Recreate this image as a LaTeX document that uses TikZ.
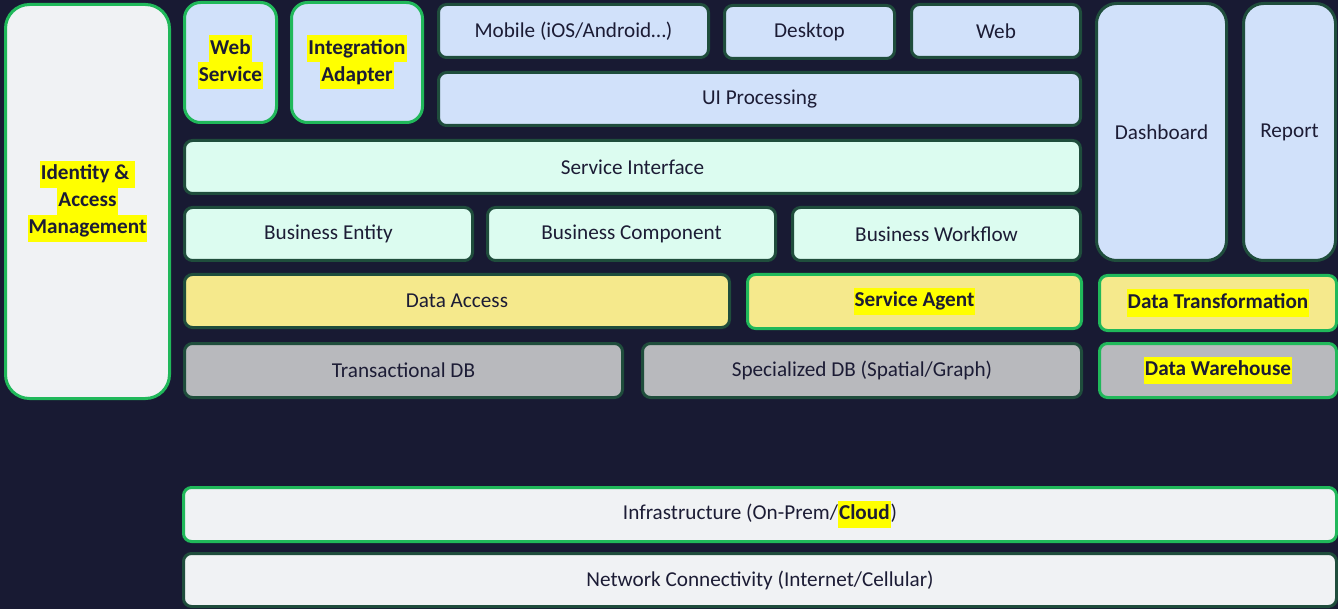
\documentclass[tikz,border=0pt]{standalone}
\usepackage{fontspec}
\setmainfont{Carlito}
\usepackage{xcolor}
\usepackage{tikz}
\usetikzlibrary{positioning}

\definecolor{navybg}{HTML}{181A33}
\definecolor{textdark}{HTML}{1C1C35}
\definecolor{darkedge}{HTML}{1F4D3C}
\definecolor{keygreen}{HTML}{20B85A}
\definecolor{lightgrey}{HTML}{F0F2F4}
\definecolor{uiblue}{HTML}{D1E1FA}
\definecolor{mint}{HTML}{DCFCF0}
\definecolor{datayellow}{HTML}{F5E98C}
\definecolor{dbgrey}{HTML}{B8B9BD}
\definecolor{hlyellow}{HTML}{FFFF00}

% highlighted (marker) text
\newcommand{\hl}[1]{{\setlength{\fboxsep}{0pt}\colorbox{hlyellow}{\strut\hspace{0.5pt}#1\hspace{0.5pt}}}}

\begin{document}
\begin{tikzpicture}[
        x=0.5pt, y=-0.5pt,
        every node/.style={text=textdark, font=\fontsize{10.6}{13.5}\selectfont},
        wh/.style 2 args={minimum width=#1*0.5pt, minimum height=#2*0.5pt},
        block/.style={rectangle, rounded corners=4pt, line width=1.5pt, draw=darkedge, inner sep=0pt, align=center},
        keyblock/.style={block, draw=keygreen, font=\fontsize{10.6}{13.5}\selectfont\bfseries},
        ui/.style={fill=uiblue},
        logic/.style={fill=mint},
        data/.style={fill=datayellow},
        db/.style={fill=dbgrey},
        base/.style={fill=lightgrey}
    ]

    \fill [navybg] (0,0) rectangle (1338,609);
    \useasboundingbox (0,0) rectangle (1338,609);

    % cross-cutting
    \node (iam) [keyblock, base, wh={164}{394}, rounded corners=12pt] at (87.5,201.5) {\hl{Identity \&\ }\\\hl{Access}\\\hl{Management}};

    % presentation
    \node (websvc) [keyblock, ui, wh={92}{120}, rounded corners=8pt] at (230.5,62.5) {\hl{Web}\\\hl{Service}};
    \node (integ) [keyblock, ui, wh={131}{120}, rounded corners=8pt] at (357,62.5) {\hl{Integration}\\\hl{Adapter}};
    \node (mobile) [block, ui, wh={270}{53}] at (573.5,31) {Mobile (iOS/Android\ldots)};
    \node (desktop) [block, ui, wh={170}{53}] at (809.5,32) {Desktop};
    \node (web) [block, ui, wh={169}{53}] at (996,31) {Web};
    \node (uiproc) [block, ui, wh={642}{53}] at (759.5,99) {UI Processing};
    \node (dash) [block, ui, wh={130}{257}, rounded corners=10pt] at (1161.5,132) {Dashboard};
    \node (report) [block, ui, wh={92}{257}, rounded corners=10pt] at (1289.5,132) {Report};

    % business
    \node (svcif) [block, logic, wh={896}{53}] at (632.5,167) {Service Interface};
    \node (bentity) [block, logic, wh={288}{53}] at (328.5,234) {Business Entity};
    \node (bcomp) [block, logic, wh={288}{53}] at (631.5,234) {Business Component};
    \node (bwork) [block, logic, wh={288}{53}] at (936.5,234) {Business Workflow};

    % data
    \node (daccess) [block, data, wh={545}{53}] at (457,301) {Data Access};
    \node (sagent) [keyblock, data, wh={334}{54}] at (914.5,301.5) {\hl{Service Agent}};
    \node (dtrans) [keyblock, data, wh={237}{55}] at (1218,303) {\hl{Data Transformation}};
    \node (txdb) [block, db, wh={438}{54}] at (403.5,370.5) {Transactional DB};
    \node (specdb) [block, db, wh={439}{54}] at (862,370.5) {Specialized DB (Spatial/Graph)};
    \node (dwh) [keyblock, db, wh={237}{54}] at (1218,370.5) {\hl{Data Warehouse}};

    % foundation
    \node (infra) [block, base, draw=keygreen, wh={1153}{54}] at (760,514.5) {Infrastructure (On-Prem/{\bfseries\hl{Cloud}})};
    \node (network) [block, base, wh={1153}{53}] at (760,580) {Network Connectivity (Internet/Cellular)};

\end{tikzpicture}
\end{document}
